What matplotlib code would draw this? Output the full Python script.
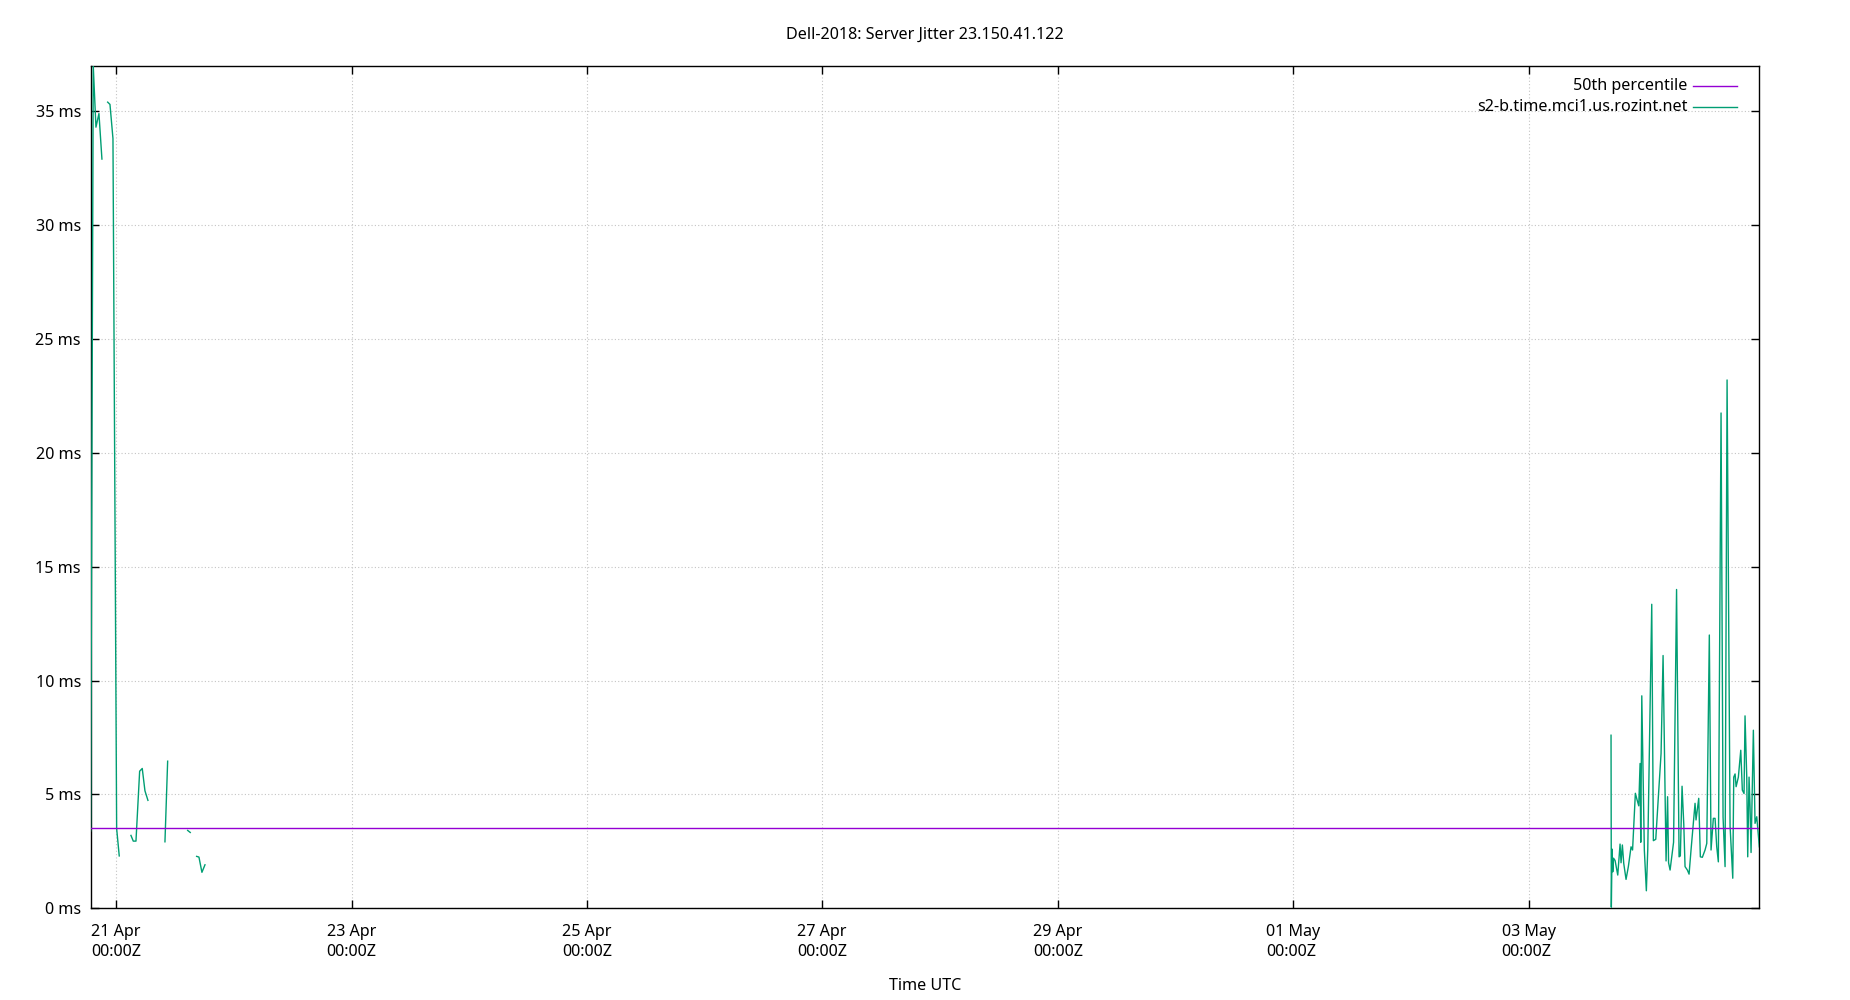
import numpy as np
import matplotlib
matplotlib.use('Agg')
import matplotlib.pyplot as plt
import matplotlib.dates as mdates

plt.rcParams['font.family'] = ['Noto Sans', 'DejaVu Sans']
plt.rcParams['font.size'] = 11.6

# hours after 21 Apr 00:00Z, nan marks a break in the trace
left_hours = [-5.22, -4.69, -4.14, -3.53, -2.92, np.nan,
              -1.75, -1.28, -0.67, 0.08, 0.61, np.nan,
              3.00, 3.47, 4.02, 4.77, 5.30, 5.85, 6.46, np.nan,
              9.93, 10.48, np.nan,
              14.56, 15.09, np.nan,
              16.39, 16.86, 17.47, 18.09, np.nan]
left_jitter = [3.4, 37.0, 34.3, 34.9, 32.9, np.nan,
               35.4, 35.3, 33.8, 3.5, 2.3, np.nan,
               3.2, 2.95, 2.95, 6.02, 6.14, 5.16, 4.74, np.nan,
               2.92, 6.46, np.nan,
               3.42, 3.33, np.nan,
               2.28, 2.25, 1.58, 1.91, np.nan]

right_hours = [304.78, 304.84, 304.99, 305.13, 305.29, 305.60, 306.15, 306.62,
               306.82, 307.09, 307.37, 307.84, 308.31, 308.86, 309.17, 309.74,
               310.09, 310.43, 310.70, 310.84, 311.05, 311.57, 311.98, 312.27,
               313.08, 313.41, 313.90, 314.43, 314.98, 315.39, 316.00, 316.31,
               316.51, 316.82, 317.53, 318.14, 318.65, 318.91, 319.26, 319.61,
               319.87, 320.34, 320.69, 321.09, 321.91, 322.11, 322.66, 322.99,
               323.40, 323.95, 324.30, 324.82, 325.17, 325.64, 325.99, 326.33,
               326.66, 327.21, 327.62, 328.03, 328.44, 329.05, 329.60, 329.80,
               330.07, 330.28, 330.74, 331.23, 331.55, 331.90, 332.10, 332.45,
               332.65, 332.92, 333.12, 333.33, 333.80, 334.14, 334.49, 335.02]
right_jitter = [7.6, 0.05, 2.6, 1.6, 2.2, 2.1, 1.46, 2.82,
                2.0, 2.78, 1.97, 1.27, 1.83, 2.7, 2.56, 5.05,
                4.76, 4.5, 6.36, 2.9, 9.33, 2.56, 0.77, 2.6,
                13.35, 2.97, 3.03, 4.9, 6.8, 11.1, 2.08, 4.9,
                2.0, 1.68, 2.9, 14.0, 2.26, 2.3, 5.36, 3.7,
                1.83, 1.68, 1.50, 2.56, 4.61, 3.88, 4.83, 2.26,
                2.24, 2.56, 2.85, 12.0, 2.56, 3.95, 3.95, 2.7,
                2.04, 21.75, 4.0, 1.83, 23.2, 3.6, 1.32, 5.76,
                5.9, 5.34, 5.76, 6.94, 5.19, 5.04, 8.45, 5.76,
                2.26, 5.76, 4.46, 2.45, 7.82, 3.73, 4.02, 2.7]

p50 = 3.51
y_ticks = [0, 5, 10, 15, 20, 25, 30, 35]

start = mdates.date2num(np.datetime64('2018-04-21T00:00'))
hours = np.array(left_hours + right_hours)
jitter = np.array(left_jitter + right_jitter)
t = start + hours / 24.0

purple = '#9400d3'
teal = '#009e73'

fig = plt.figure(figsize=(18.5, 10), dpi=100)
ax = fig.add_axes([0.049, 0.0917, 0.902, 0.8426])

ax.plot(t, jitter, color=teal, lw=1.0, zorder=3)
ax.axhline(p50, color=purple, lw=1.0, zorder=4)

ax.set_xlim(np.nanmin(t), np.nanmax(t))
ax.set_ylim(0, np.nanmax(jitter))

ax.xaxis_date()
ax.xaxis.set_major_locator(mdates.DayLocator(bymonthday=range(1, 32, 2)))
ax.xaxis.set_major_formatter(mdates.DateFormatter('%d %b\n%H:%MZ'))
ax.set_yticks(y_ticks)
ax.set_yticklabels(['%d ms' % v for v in y_ticks])

ax.tick_params(direction='in', top=True, right=True, length=5.8, width=1.0,
               labelsize=11.6, colors='black')
ax.tick_params(axis='x', pad=11)
ax.tick_params(axis='y', pad=7)
for lab in ax.get_xticklabels():
    lab.set_multialignment('left')
    lab.set_linespacing(1.35)

for s in ax.spines.values():
    s.set_linewidth(1.0)

ax.grid(True, color='#c4c4c4', linestyle=(0, (1, 2)), lw=0.8)
ax.set_axisbelow(True)

ax.set_title('Dell-2018: Server Jitter 23.150.41.122', fontsize=11.6, pad=19.5)
ax.set_xlabel('Time UTC', fontsize=11.6, labelpad=13)

# gnuplot style key: right-justified text, sample line on the right
names = ['50th percentile', 's2-b.time.mci1.us.rozint.net']
cols = [purple, teal]
for i, (nm, c) in enumerate(zip(names, cols)):
    yy = 0.9759 - i * 0.0255
    ax.text(0.9569, yy, nm, transform=ax.transAxes, ha='right', va='center',
            fontsize=11.6)
    ax.plot([0.9604, 0.9869], [yy, yy], transform=ax.transAxes, color=c,
            lw=1.0, clip_on=False)

fig.savefig('out.png', dpi=100)
